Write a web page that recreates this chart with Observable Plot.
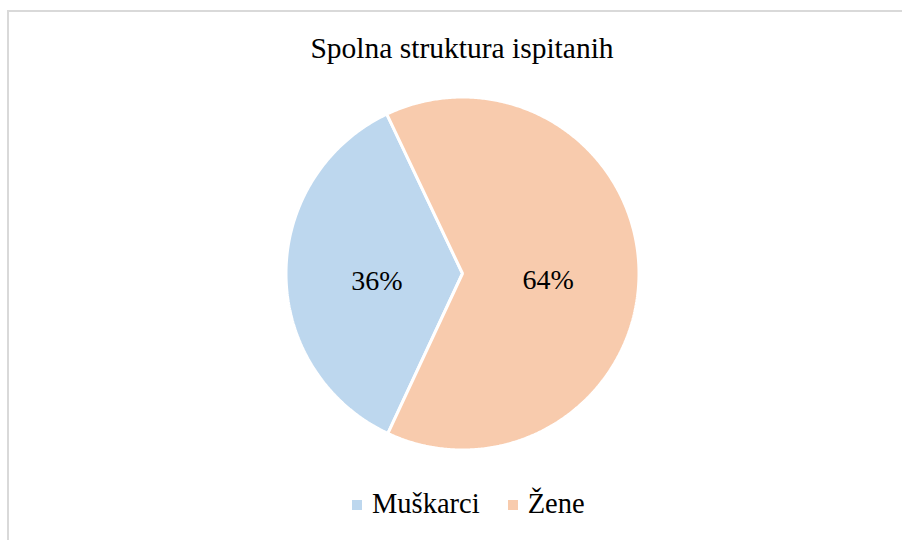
<!DOCTYPE html>
<html>
<head>
<meta charset="utf-8">
<script src="https://cdn.jsdelivr.net/npm/d3@7"></script>
<script src="https://cdn.jsdelivr.net/npm/@observablehq/plot@0.6"></script>
<style>
  html, body { margin: 0; padding: 0; background: #fff; }
  #chart { position: relative; width: 902px; height: 540px; overflow: hidden; background: #fff;
           font-family: "Liberation Serif", "Times New Roman", serif; color: #000; }
  #frame { position: absolute; left: 7px; top: 10px; width: 1000px; height: 1000px;
           border: 2px solid #d9d9d9; pointer-events: none; }
  #title { position: absolute; left: 0; top: 33.5px; width: 924px; text-align: center;
           font-size: 29.5px; line-height: 1; white-space: nowrap; }
  #pie { position: absolute; left: 0; top: 0; }
  #legend { position: absolute; left: 352px; top: 488px; }
  #legend .lg-swatches { font-family: "Liberation Serif", "Times New Roman", serif !important;
           font-size: 28.5px !important; line-height: 1; margin: 0 !important; color: #000; }
  #legend .lg-swatch > svg { margin-right: 10px !important; }
  #legend .lg-swatches-wrap .lg-swatch { margin-right: 28px !important; }
</style>
</head>
<body>
<div id="chart">
  <div id="pie"></div>
  <div id="frame"></div>
  <div id="title"></div>
  <div id="legend"></div>
</div>
<script>
// ---- data ----
const title = "Spolna struktura ispitanih";
const categories = ["Muškarci", "Žene"];
const values = [36, 64];
const colors = ["#BDD7EE", "#F8CBAD"];
const firstSliceAngle = 205; // degrees, clockwise from 12 o'clock

// ---- geometry from data via d3.pie ----
const start = firstSliceAngle * Math.PI / 180;
const arcs = d3.pie().sort(null).startAngle(start).endAngle(start + 2 * Math.PI)(values);

const slicePoints = [];
arcs.forEach((a, i) => {
  const name = categories[i];
  slicePoints.push({name, x: 0, y: 0});
  const n = Math.max(2, Math.ceil((a.endAngle - a.startAngle) / (Math.PI / 360)));
  for (let k = 0; k <= n; k++) {
    const t = a.startAngle + (a.endAngle - a.startAngle) * k / n;
    slicePoints.push({name, x: Math.sin(t), y: Math.cos(t)});
  }
});

const labelRadius = 0.485;
const labels = arcs.map((a, i) => {
  const m = (a.startAngle + a.endAngle) / 2;
  return {name: categories[i], text: values[i] + "%", x: labelRadius * Math.sin(m), y: labelRadius * Math.cos(m)};
});

const pie = Plot.plot({
  width: 902,
  height: 540,
  marginLeft: 285.5,
  marginRight: 263.5,
  marginTop: 96.5,
  marginBottom: 90.5,
  style: {background: "transparent", overflow: "visible"},
  x: {domain: [-1, 1], axis: null},
  y: {domain: [-1, 1], axis: null},
  color: {domain: categories, range: colors},
  marks: [
    Plot.line(slicePoints, {x: "x", y: "y", z: "name", fill: "name", stroke: "white",
      strokeWidth: 3, strokeLinejoin: "miter", curve: "linear-closed"}),
    Plot.text(labels, {x: "x", y: "y", text: "text", fontSize: 28, lineAnchor: "bottom", dy: 16,
      fontFamily: "Liberation Serif, Times New Roman, serif", fill: "#000"})
  ]
});
document.getElementById("pie").appendChild(pie);

document.getElementById("title").textContent = title;

const legend = Plot.legend({
  color: {type: "categorical", domain: categories, range: colors},
  swatchSize: 10,
  className: "lg",
  style: {fontFamily: "Liberation Serif, Times New Roman, serif", fontSize: "28.5px", color: "#000"}
});
document.getElementById("legend").appendChild(legend);
</script>
</body>
</html>
